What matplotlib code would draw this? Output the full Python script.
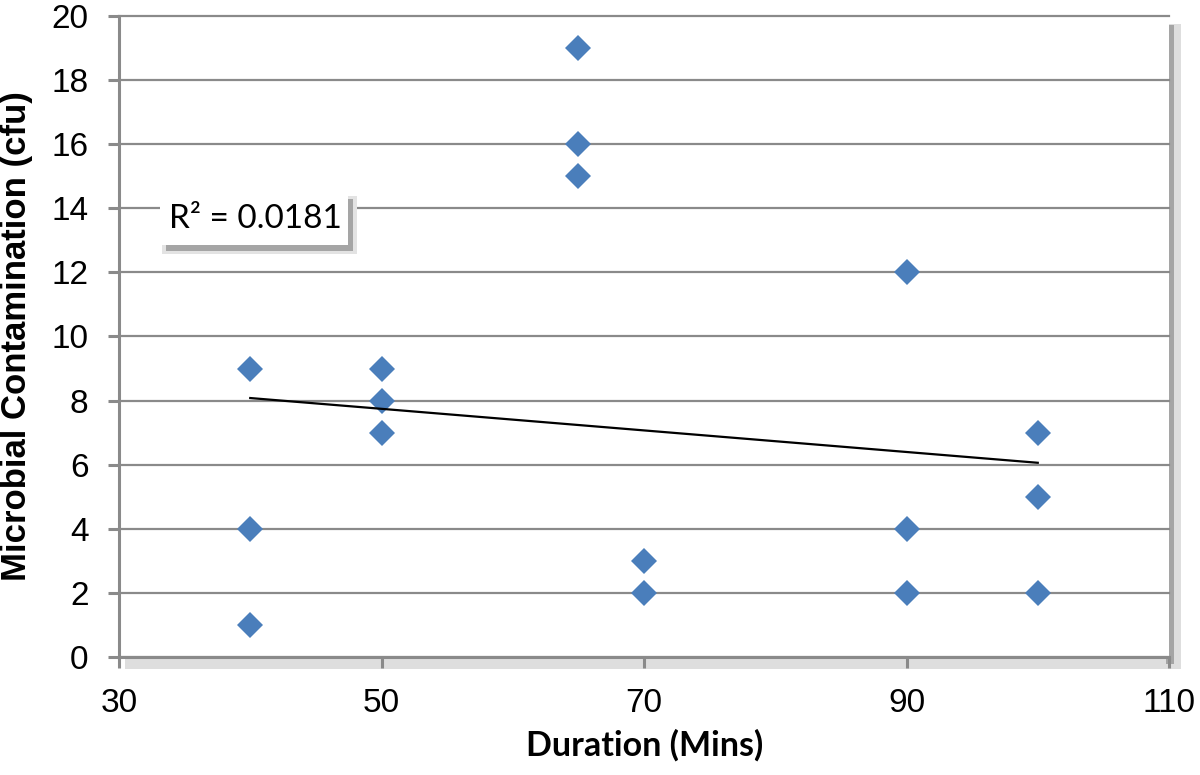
import numpy as np
import matplotlib
matplotlib.use('Agg')
import matplotlib.pyplot as plt
from matplotlib.patches import Rectangle

# data
duration = [40, 40, 40, 50, 50, 50, 65, 65, 65, 70, 70, 90, 90, 90, 100, 100, 100]
contamination = [9, 4, 1, 9, 8, 7, 19, 16, 15, 3, 2, 12, 4, 2, 7, 5, 2]
trend_x = [40, 100]
trend_y = [8.08, 6.06]
r2_text = 'R² = 0.0181'

W, H = 1200, 775
def fx(x):
    return x / W
def fy(y):
    return 1 - y / H

fig = plt.figure(figsize=(12, 7.75), dpi=100)
ax = fig.add_axes([fx(119), fy(657), 1050 / W, 641 / H])

# plot area shadow (excel style)
fig.patches.append(Rectangle((fx(125), fy(669)), fx(1181) - fx(125), fy(24) - fy(669),
                             transform=fig.transFigure, facecolor='#dedede', edgecolor='none', zorder=-2))
fig.patches.append(Rectangle((fx(1166), fy(664)), fx(1174) - fx(1166), fy(25) - fy(664),
                             transform=fig.transFigure, facecolor='#a5a5a5', edgecolor='none', zorder=-1))

gc = '#8a8a8a'
ax.set_xlim(30, 110)
ax.set_ylim(0, 20)
ax.set_xticks(np.arange(30, 111, 20))
ax.set_yticks(np.arange(0, 21, 2))
ax.grid(axis='y', color=gc, linewidth=1.6, zorder=1)
for g in ax.get_ygridlines():
    g.set_clip_on(False)
ax.set_axisbelow(True)
for s in ['top', 'right']:
    ax.spines[s].set_visible(False)
for s in ['left', 'bottom']:
    ax.spines[s].set_color(gc)
    ax.spines[s].set_linewidth(2.2)
ax.tick_params(axis='both', direction='out', length=8, width=2.2, color=gc,
               labelsize=24, pad=14)
for lab in ax.get_xticklabels() + ax.get_yticklabels():
    lab.set_family('Liberation Sans')

ax.plot(duration, contamination, linestyle='none', marker='D', markersize=13.5,
        color='#4a7ebb', markeredgewidth=0, zorder=3)
ax.plot(trend_x, trend_y, color='black', linewidth=1.6, zorder=4)

fig.text(fx(645), fy(745), 'Duration (Mins)', ha='center', va='center',
         fontsize=24.5, fontweight='bold', family='Lato')
fig.text(fx(17), fy(336), 'Microbial Contamination (cfu)', ha='center', va='center',
         rotation=90, fontsize=25, fontweight='bold', family='Liberation Sans')

# R2 label box with shadow
fig.patches.append(Rectangle((fx(162), fy(254)), fx(357) - fx(162), fy(196) - fy(254),
                             transform=fig.transFigure, facecolor='#e3e3e3', edgecolor='none', zorder=5))
fig.patches.append(Rectangle((fx(166), fy(251)), fx(353) - fx(166), fy(199) - fy(251),
                             transform=fig.transFigure, facecolor='#a5a5a5', edgecolor='none', zorder=6))
fig.patches.append(Rectangle((fx(160), fy(245)), fx(348) - fx(160), fy(190) - fy(245),
                             transform=fig.transFigure, facecolor='white', edgecolor='none', zorder=7))
fig.text(fx(255), fy(219), r2_text, ha='center', va='center', fontsize=24,
         family='Lato', zorder=8)

fig.savefig('out.png', dpi=100)
